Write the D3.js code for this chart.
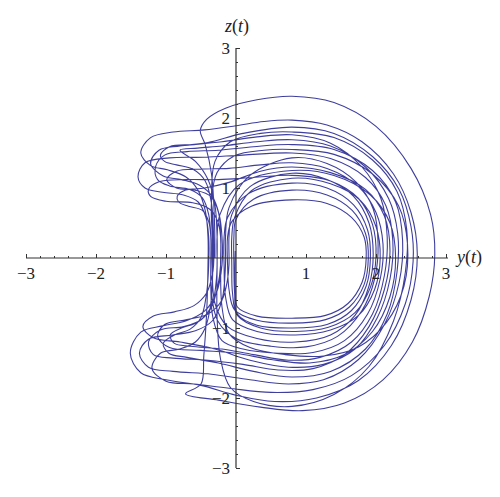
<!DOCTYPE html>
<html>
<head>
<meta charset="utf-8">
<script src="https://d3js.org/d3.v7.min.js"></script>
</head>
<body style="margin:0;background:#fff">
<svg id="chart" width="500" height="497" font-family="Liberation Serif" style="display:block"></svg>
<script>
// ---- data: phase portrait (y(t), z(t)), lap by lap ----
const majorTicks = [-3, -2, -1, 1, 2, 3];
const tickLabels = ["\u22123", "\u22122", "\u22121", "1", "2", "3"];

// outer laps (big tops, left hooks / cusps)
const outerLaps = [
  [[-0.30,0.00],[-0.31,0.60],[-0.35,1.20],[-0.44,1.62],[-0.51,1.82],[-0.42,1.98],[-0.15,2.14],[0.30,2.26],[0.80,2.31],[1.40,2.22],[2.00,1.88],[2.50,1.28],[2.78,0.62],[2.84,0.05],[2.76,-0.55],[2.52,-1.20],[2.10,-1.74],[1.55,-2.07],[0.95,-2.18],[0.35,-2.13],[-0.25,-2.03],[-0.72,-1.94],[-0.50,-1.80],[-0.46,-1.40],[-0.42,-0.80],[-0.40,-0.10]],
  [[-0.40,0.30],[-0.44,0.68],[-0.55,0.98],[-0.72,1.16],[-0.98,1.26],[-1.22,1.32],[-1.36,1.50],[-1.22,1.72],[-0.90,1.80],[-0.45,1.83],[0.00,1.89],[0.40,1.95],[0.80,1.97],[1.30,1.90],[1.80,1.66],[2.25,1.20],[2.50,0.65],[2.59,0.05],[2.50,-0.60],[2.22,-1.25],[1.75,-1.75],[1.15,-2.00],[0.55,-2.05],[0.00,-1.96],[-0.50,-1.82],[-1.00,-1.74],[-1.36,-1.64],[-1.51,-1.36],[-1.36,-1.06],[-1.05,-0.97],[-0.72,-0.90],[-0.45,-0.76],[-0.28,-0.50],[-0.20,-0.10]],
  [[-0.20,0.30],[-0.24,0.62],[-0.34,0.88],[-0.52,1.04],[-0.78,1.12],[-1.04,1.17],[-1.22,1.35],[-1.10,1.54],[-0.80,1.60],[-0.40,1.65],[0.10,1.78],[0.80,1.87],[1.40,1.78],[1.95,1.45],[2.33,0.98],[2.50,0.45],[2.53,-0.05],[2.42,-0.65],[2.12,-1.25],[1.65,-1.68],[1.10,-1.88],[0.50,-1.92],[-0.10,-1.86],[-0.60,-1.80],[-1.00,-1.76],[-1.20,-1.58],[-1.08,-1.36],[-0.80,-1.30],[-0.58,-1.20],[-0.44,-1.00],[-0.36,-0.65],[-0.33,-0.10]],
  [[-0.33,0.30],[-0.35,0.90],[-0.30,1.38],[-0.08,1.66],[0.35,1.78],[0.80,1.80],[1.40,1.72],[1.95,1.40],[2.30,0.95],[2.44,0.40],[2.42,-0.20],[2.25,-0.90],[1.90,-1.55],[1.40,-1.95],[0.80,-2.12],[0.25,-2.05],[-0.08,-1.85],[-0.22,-1.45],[-0.27,-0.85],[-0.27,-0.10]]
];

// middle laps (hooks on the left at mid heights)
const middleLaps = [
  [[-0.27,0.30],[-0.30,0.75],[-0.40,1.12],[-0.58,1.38],[-0.80,1.54],[-0.55,1.57],[-0.20,1.60],[0.30,1.66],[0.80,1.69],[1.35,1.60],[1.85,1.30],[2.18,0.85],[2.31,0.35],[2.30,-0.20],[2.16,-0.80],[1.85,-1.30],[1.35,-1.62],[0.80,-1.70],[0.25,-1.62],[-0.25,-1.50],[-0.70,-1.42],[-0.96,-1.36],[-1.04,-1.22],[-0.88,-1.10],[-0.66,-1.02],[-0.50,-0.85],[-0.42,-0.50],[-0.39,-0.10]],
  [[-0.39,0.30],[-0.43,0.58],[-0.54,0.80],[-0.75,0.90],[-1.05,0.94],[-1.30,1.00],[-1.40,1.16],[-1.30,1.36],[-0.95,1.43],[-0.45,1.44],[0.10,1.47],[0.80,1.50],[1.35,1.42],[1.85,1.15],[2.14,0.75],[2.24,0.25],[2.20,-0.30],[2.02,-0.85],[1.70,-1.30],[1.25,-1.52],[0.75,-1.56],[0.20,-1.46],[-0.30,-1.30],[-0.80,-1.20],[-1.18,-1.14],[-1.33,-0.98],[-1.18,-0.83],[-0.88,-0.77],[-0.60,-0.68],[-0.42,-0.50],[-0.34,-0.25],[-0.32,-0.10]],
  [[-0.32,0.30],[-0.35,0.78],[-0.44,1.10],[-0.62,1.27],[-0.85,1.33],[-1.02,1.38],[-1.08,1.47],[-0.95,1.59],[-0.60,1.62],[-0.20,1.66],[0.30,1.73],[0.80,1.76],[1.35,1.64],[1.80,1.30],[2.07,0.85],[2.16,0.30],[2.12,-0.25],[1.95,-0.80],[1.65,-1.20],[1.20,-1.42],[0.75,-1.46],[0.25,-1.38],[-0.20,-1.30],[-0.65,-1.26],[-0.88,-1.22],[-0.94,-1.10],[-0.78,-1.00],[-0.55,-0.92],[-0.36,-0.72],[-0.26,-0.40],[-0.22,-0.10]],
  [[-0.22,0.30],[-0.25,0.65],[-0.36,0.88],[-0.58,0.97],[-0.85,1.00],[-0.99,1.12],[-0.85,1.24],[-0.50,1.27],[-0.10,1.28],[0.35,1.33],[0.80,1.36],[1.30,1.28],[1.75,1.02],[2.00,0.65],[2.10,0.20],[2.06,-0.30],[1.88,-0.80],[1.55,-1.18],[1.10,-1.35],[0.60,-1.36],[0.10,-1.30],[-0.20,-1.18],[-0.33,-0.85],[-0.36,-0.40],[-0.36,-0.10]],
  [[-0.36,0.30],[-0.39,0.62],[-0.48,0.86],[-0.66,0.98],[-0.95,1.03],[-1.12,1.12],[-1.15,1.30],[-1.02,1.47],[-0.70,1.52],[-0.25,1.54],[0.25,1.59],[0.80,1.62],[1.40,1.55],[1.95,1.25],[2.28,0.80],[2.38,0.25],[2.33,-0.35],[2.12,-0.95],[1.75,-1.45],[1.25,-1.74],[0.75,-1.80],[0.20,-1.74],[-0.35,-1.66],[-0.90,-1.62],[-1.25,-1.56],[-1.38,-1.36],[-1.25,-1.16],[-0.90,-1.10],[-0.58,-1.04],[-0.34,-0.90],[-0.20,-0.60],[-0.15,-0.10]],
  [[-0.15,0.30],[-0.10,0.72],[0.20,1.18],[0.80,1.43],[1.30,1.35],[1.72,1.08],[1.96,0.70],[2.03,0.20],[1.98,-0.30],[1.80,-0.75],[1.45,-1.12],[1.00,-1.27],[0.50,-1.26],[0.00,-1.15],[-0.26,-0.90],[-0.35,-0.50],[-0.36,-0.10]],
  [[-0.36,0.30],[-0.39,0.52],[-0.48,0.68],[-0.68,0.74],[-0.82,0.80],[-0.84,0.88],[-0.72,0.97],[-0.45,1.00],[-0.10,1.08],[0.35,1.24],[0.80,1.30],[1.35,1.22],[1.85,0.98],[2.12,0.60],[2.20,0.10],[2.12,-0.45],[1.90,-0.98],[1.55,-1.38],[1.10,-1.58],[0.60,-1.60],[0.10,-1.52],[-0.40,-1.46],[-0.90,-1.43],[-1.18,-1.38],[-1.25,-1.20],[-1.08,-1.03],[-0.75,-0.98],[-0.50,-0.88],[-0.34,-0.66],[-0.28,-0.30],[-0.27,-0.10]],
  [[-0.27,0.30],[-0.23,0.62],[0.05,1.05],[0.80,1.25],[1.40,1.18],[1.92,0.90],[2.20,0.50],[2.28,0.00],[2.20,-0.55],[1.95,-1.05],[1.55,-1.38],[1.05,-1.50],[0.50,-1.45],[0.00,-1.36],[-0.50,-1.32],[-0.95,-1.28],[-1.12,-1.12],[-1.02,-0.95],[-0.70,-0.88],[-0.40,-0.80],[-0.20,-0.60],[-0.12,-0.30],[-0.10,-0.10]]
];

// inner laps (mostly straight round, few hooks)
const innerLaps = [
  [[-0.10,0.30],[-0.06,0.62],[0.20,1.02],[0.80,1.21],[1.30,1.12],[1.68,0.88],[1.90,0.50],[1.96,0.05],[1.90,-0.40],[1.70,-0.82],[1.35,-1.10],[0.85,-1.20],[0.30,-1.15],[-0.12,-0.98],[-0.30,-0.65],[-0.34,-0.10]],
  [[-0.34,0.30],[-0.35,0.80],[-0.27,1.22],[-0.02,1.46],[0.40,1.54],[0.80,1.55],[1.40,1.48],[1.95,1.20],[2.32,0.75],[2.45,0.20],[2.40,-0.40],[2.15,-0.92],[1.75,-1.27],[1.25,-1.40],[0.70,-1.38],[0.20,-1.28],[-0.10,-1.08],[-0.20,-0.70],[-0.22,-0.10]],
  [[-0.22,0.30],[-0.26,0.52],[-0.38,0.70],[-0.62,0.79],[-1.00,0.81],[-1.22,0.88],[-1.25,0.98],[-1.10,1.09],[-0.70,1.12],[-0.25,1.12],[0.25,1.15],[0.80,1.18],[1.35,1.10],[1.75,0.85],[1.95,0.48],[2.00,0.02],[1.92,-0.42],[1.70,-0.78],[1.32,-0.99],[0.85,-1.05],[0.35,-1.00],[0.02,-0.82],[-0.05,-0.50],[-0.06,-0.10]],
  [[-0.06,0.30],[-0.02,0.58],[0.22,0.96],[0.80,1.14],[1.35,1.06],[1.78,0.82],[2.00,0.45],[2.06,0.00],[1.98,-0.45],[1.75,-0.82],[1.35,-1.03],[0.85,-1.10],[0.30,-1.05],[-0.05,-0.88],[-0.15,-0.55],[-0.17,-0.10]],
  [[-0.17,0.30],[-0.12,0.58],[0.18,0.92],[0.80,1.07],[1.30,1.00],[1.68,0.76],[1.88,0.40],[1.92,0.00],[1.86,-0.40],[1.65,-0.75],[1.30,-0.95],[0.80,-1.00],[0.30,-0.96],[0.02,-0.80],[-0.02,-0.50],[-0.03,-0.10]],
  [[-0.03,0.30],[0.00,0.55],[0.25,0.84],[0.80,0.97],[1.30,0.90],[1.66,0.68],[1.85,0.35],[1.89,0.00],[1.83,-0.38],[1.62,-0.70],[1.28,-0.88],[0.80,-0.93],[0.30,-0.89],[-0.02,-0.74],[-0.10,-0.45],[-0.12,-0.10]],
  [[-0.12,0.30],[-0.06,0.52],[0.22,0.74],[0.80,0.83],[1.30,0.78],[1.65,0.58],[1.83,0.30],[1.86,0.00],[1.80,-0.35],[1.60,-0.65],[1.28,-0.82],[0.80,-0.86],[0.30,-0.83],[0.02,-0.70],[-0.01,-0.45],[-0.01,0.10]]
];

// ---- drawing ----
const svg = d3.select("#chart");
const x = d3.scaleLinear().domain([-3, 3]).range([26, 446]);
const y = d3.scaleLinear().domain([-3, 3]).range([468, 48]);
const labelFont = "Liberation Serif";

const orbit = [].concat(...outerLaps, ...middleLaps, ...innerLaps);

const line = d3.line()
  .x(d => x(d[0]))
  .y(d => y(d[1]))
  .curve(d3.curveCatmullRom.alpha(0.5));

svg.append("path")
  .datum(orbit)
  .attr("d", line)
  .attr("fill", "none")
  .attr("stroke", "#3e3e9e")
  .attr("stroke-width", 1.1)
  .attr("stroke-linejoin", "round");

// axis lines
const axisColor = "#333";
svg.append("line").attr("x1", x(-3)).attr("x2", x(3) + 2).attr("y1", y(0)).attr("y2", y(0))
  .attr("stroke", axisColor).attr("stroke-width", 1.2);
svg.append("line").attr("x1", x(0)).attr("x2", x(0)).attr("y1", y(3)).attr("y2", y(-3))
  .attr("stroke", axisColor).attr("stroke-width", 1.2);

const minor = d3.range(-30, 31, 2).map(v => v / 10).filter(v => Math.abs(v % 1) > 0.01);

// ticks: above the horizontal axis, right of the vertical one
const tickGroups = [
  [d3.axisTop(x).tickValues(minor).tickSize(2), `translate(0,${y(0)})`],
  [d3.axisTop(x).tickValues(majorTicks).tickSize(4), `translate(0,${y(0)})`],
  [d3.axisRight(y).tickValues(minor).tickSize(2), `translate(${x(0)},0)`],
  [d3.axisRight(y).tickValues(majorTicks).tickSize(4), `translate(${x(0)},0)`]
];
tickGroups.forEach(([ax, tr]) => {
  svg.append("g").attr("transform", tr).call(ax.tickFormat(""))
    .attr("font-family", labelFont);
});
svg.selectAll(".domain").remove();
svg.selectAll(".tick text").remove();
svg.selectAll(".tick line").attr("stroke", axisColor).attr("stroke-width", 1);

// tick labels
const labels = svg.append("g").attr("font-family", labelFont).attr("font-size", 17).attr("fill", "#222");

labels.selectAll("text.xl").data(majorTicks).join("text")
  .attr("class", "xl")
  .attr("x", d => x(d))
  .attr("y", y(0) + 21)
  .attr("text-anchor", "middle")
  .text((d, i) => tickLabels[i]);

labels.selectAll("text.yl").data(majorTicks).join("text")
  .attr("class", "yl")
  .attr("x", x(0) - 6)
  .attr("y", d => y(d) + 6)
  .attr("text-anchor", "end")
  .text((d, i) => tickLabels[i]);

// axis titles
function title(sel, v) {
  sel.attr("font-size", 18);
  sel.append("tspan").attr("font-style", "italic").text(v);
  sel.append("tspan").text("(");
  sel.append("tspan").attr("font-style", "italic").text("t");
  sel.append("tspan").text(")");
}
title(labels.append("text").attr("x", x(0) + 1).attr("y", 32).attr("text-anchor", "middle"), "z");
title(labels.append("text").attr("x", 457).attr("y", y(0) + 5), "y");
</script>
</body>
</html>
